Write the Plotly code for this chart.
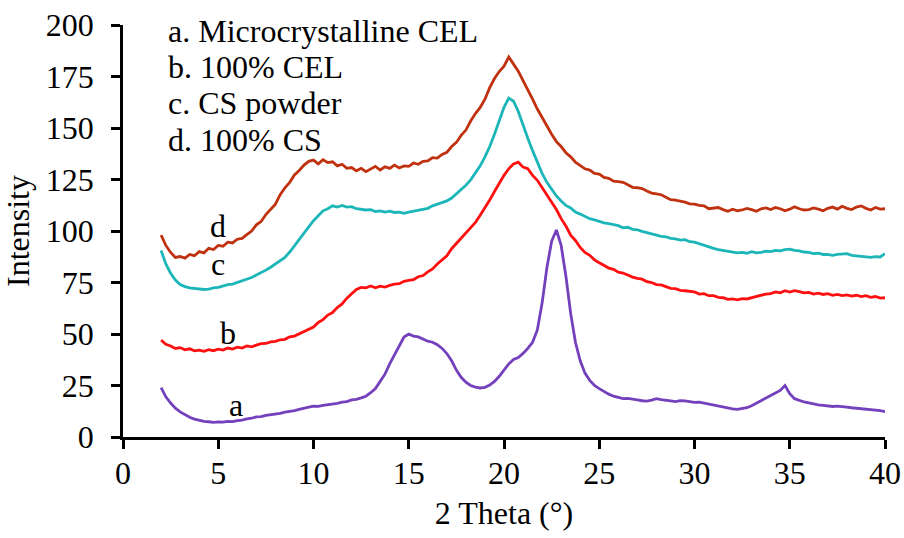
import plotly.graph_objects as go

# 2-theta sampling grid (degrees), 0.25 step from 2 to 40
two_theta = [2 + 0.25 * i for i in range(153)]

# a. Microcrystalline CEL
series_a = [
    24.0, 19.5, 16.5, 14.0,
    12.2, 10.8, 9.6, 8.7,
    8.1, 7.6, 7.4, 7.1,
    7.3, 7.2, 7.6, 7.5,
    8.0, 8.2, 8.8, 9.1,
    9.8, 9.9, 10.5, 10.8,
    11.3, 11.5, 12.1, 12.3,
    12.8, 13.4, 13.8, 14.5,
    15.0, 14.9, 15.4, 15.6,
    15.8, 16.3, 16.9, 17.2,
    18.0, 18.3, 19.0, 19.8,
    21.5, 23.5, 27.0, 30.5,
    35.5, 40.0, 44.5, 48.5,
    50.0, 49.0, 48.6, 47.6,
    46.5, 46.0, 44.8, 43.0,
    40.5, 37.0, 32.5, 29.0,
    26.6, 25.0, 24.2, 23.8,
    24.1, 25.2, 27.0, 29.5,
    32.5, 35.5, 37.6, 38.6,
    40.6, 43.0, 46.0, 52.0,
    65.0, 82.0, 95.0, 100.5,
    93.0, 78.0, 60.0, 46.0,
    37.0, 31.0, 27.5, 25.0,
    23.5, 22.0, 20.8, 19.8,
    19.2, 18.6, 18.7, 18.2,
    18.0, 17.6, 17.4, 17.9,
    18.6, 18.2, 18.0, 17.5,
    17.2, 17.6, 17.5, 17.1,
    16.8, 16.9, 16.4, 16.0,
    15.5, 15.2, 14.6, 14.1,
    13.6, 13.4, 13.7, 14.2,
    15.2, 16.4, 18.0, 19.0,
    20.2, 21.3, 22.6, 25.0,
    21.0, 18.6, 17.6, 17.0,
    16.6, 16.0, 15.6, 15.3,
    15.1, 14.8, 15.0, 14.6,
    14.5, 14.2, 14.0, 13.8,
    13.6, 13.3, 13.0, 12.8,
    12.3,
]

# b. 100% CEL
series_b = [
    47.0, 45.0, 44.2, 43.0,
    43.4, 42.3, 42.8, 41.8,
    42.2, 41.6, 42.4, 41.9,
    42.6, 42.2, 43.2, 42.7,
    43.6, 43.2, 44.2, 43.8,
    44.6, 45.3, 45.4, 46.2,
    46.4, 47.2, 47.4, 48.6,
    49.0, 50.2, 51.0, 52.6,
    53.4, 55.6, 57.0, 59.2,
    60.4, 62.8, 64.6, 67.4,
    69.4, 71.6, 72.6, 72.4,
    73.3, 72.4, 73.2, 72.8,
    73.6, 74.2, 74.4, 75.6,
    76.0, 76.4, 77.8, 78.4,
    80.2, 81.6, 84.0, 85.8,
    88.0, 91.4, 94.0, 96.8,
    99.0, 101.8, 104.2, 107.6,
    111.0, 115.0, 119.2, 123.4,
    127.0, 130.2, 132.6, 133.4,
    131.0, 130.2, 127.0, 124.6,
    121.0, 117.2, 114.0, 110.4,
    106.0, 102.4, 98.0, 95.4,
    92.0, 89.6, 88.2, 86.0,
    84.6, 83.2, 82.0, 81.4,
    80.0, 79.6, 78.4, 77.6,
    77.0, 76.6, 75.4, 75.0,
    74.0, 73.8, 73.0, 72.2,
    72.0, 71.2, 71.0, 70.8,
    70.4, 69.4, 69.6, 68.6,
    68.6, 67.8, 67.6, 66.8,
    67.0, 66.6, 67.2, 67.0,
    67.6, 68.2, 68.6, 69.4,
    69.6, 70.4, 70.0, 71.0,
    70.4, 71.0, 70.6, 70.0,
    70.2, 69.4, 69.8, 69.2,
    69.6, 68.8, 69.2, 68.6,
    69.0, 68.4, 68.8, 68.2,
    68.6, 67.8, 68.2, 67.4,
    67.6,
]

# c. CS powder
series_c = [
    90.5, 84.0, 79.5, 76.2,
    74.0, 73.0, 72.4, 72.2,
    72.0, 71.6, 71.8, 72.4,
    72.6, 73.4, 74.0, 74.2,
    75.0, 75.8, 76.6, 77.4,
    78.6, 79.6, 81.0, 82.4,
    84.0, 85.2, 87.2, 89.8,
    93.0, 96.0, 99.2, 102.0,
    105.0, 107.6, 109.8, 110.8,
    112.2, 111.6, 112.4, 111.6,
    111.8, 110.8, 110.6, 110.2,
    110.4, 109.4, 109.8, 109.2,
    109.6, 109.0, 109.2, 108.6,
    109.2, 109.6, 110.2, 110.4,
    111.0, 112.2, 113.0, 113.6,
    114.6, 116.0, 118.0, 120.0,
    122.2, 124.8, 128.0, 131.6,
    136.0, 141.0, 147.0, 153.6,
    160.0, 164.5, 163.0, 158.0,
    151.0, 145.0, 139.0, 133.4,
    128.0, 123.6, 120.2, 117.0,
    114.6, 112.4, 111.2, 109.2,
    108.2, 107.2, 106.0, 105.4,
    104.6, 104.0, 103.6, 103.2,
    102.6, 101.6, 101.8, 100.8,
    100.6, 99.8, 99.2, 98.6,
    98.2, 97.4, 97.2, 96.4,
    96.2, 95.6, 95.8, 94.8,
    94.6, 93.8, 93.0, 92.2,
    91.6, 91.0, 90.6, 90.2,
    90.0, 89.4, 89.6, 89.2,
    90.0, 89.4, 89.6, 90.2,
    90.0, 90.6, 90.4, 91.0,
    91.2, 90.6, 90.4, 89.8,
    89.6, 89.0, 89.2, 88.6,
    88.6, 88.2, 88.6, 88.8,
    89.0, 88.2, 88.0, 87.6,
    87.6, 87.2, 87.6, 87.4,
    89.0,
]

# d. 100% CS
series_d = [
    98.0, 93.0, 89.6, 87.2,
    87.6, 86.8, 88.6, 88.0,
    90.0, 89.4, 91.6, 91.0,
    93.0, 92.6, 94.6, 94.2,
    96.0, 96.4, 98.2, 100.0,
    103.0, 104.6, 108.0, 110.4,
    113.0, 117.6, 121.0, 123.6,
    127.2, 129.4, 132.0, 133.8,
    134.4, 132.6, 134.6, 133.2,
    133.6, 131.6, 132.4, 130.4,
    130.8, 129.2, 130.4, 128.8,
    130.2, 131.4, 129.6, 131.2,
    130.4, 132.0, 130.6, 131.6,
    131.4, 133.0, 132.4, 133.8,
    134.0, 135.6, 135.4, 137.2,
    138.2, 141.0, 143.0, 146.4,
    149.0, 153.4, 157.0, 160.0,
    164.0, 169.6, 174.0, 177.4,
    180.0, 184.5, 181.0, 177.6,
    173.0, 168.8, 164.0, 159.2,
    155.0, 150.6, 147.0, 143.4,
    141.0, 138.0, 136.0, 133.4,
    132.0, 130.2, 129.6, 128.0,
    127.6, 126.0, 125.6, 124.2,
    124.0, 123.6, 122.4, 121.2,
    121.0, 120.6, 119.4, 118.4,
    118.0, 117.6, 116.4, 115.2,
    115.0, 114.6, 114.0, 113.2,
    113.0, 112.4, 112.2, 110.8,
    111.0, 111.4, 110.4, 109.6,
    110.6, 109.8, 110.2, 111.0,
    110.4, 109.6, 110.8, 111.2,
    110.4, 111.4, 110.8, 109.8,
    110.6, 111.8, 110.8, 110.2,
    110.4, 111.2, 110.6, 109.8,
    111.0, 111.6, 110.6, 112.0,
    111.0, 110.4, 111.6, 112.2,
    111.0, 110.2, 111.4, 110.6,
    110.8,
]

legend_lines = ["a. Microcrystalline CEL", "b. 100% CEL", "c. CS powder", "d. 100% CS"]
curve_letters = ["a", "b", "c", "d"]
x_ticks = [0, 5, 10, 15, 20, 25, 30, 35, 40]
y_ticks = [0, 25, 50, 75, 100, 125, 150, 175, 200]

for s in (series_a, series_b, series_c, series_d):
    assert len(s) == len(two_theta)

FONT = "Liberation Serif"
FS = 32
colors = {"a": "#7440BC", "b": "#FF1010", "c": "#1CB6B8", "d": "#C0320F"}

fig = go.Figure()
for key, ys in (("a", series_a), ("b", series_b), ("c", series_c), ("d", series_d)):
    fig.add_trace(go.Scatter(x=two_theta, y=ys, mode="lines",
                             line=dict(color=colors[key], width=2.8),
                             showlegend=False, hoverinfo="skip"))

# curve labels next to the curves
label_pos = {"a": (5.95, 15.5), "b": (5.5, 50.5), "c": (5.0, 84.0), "d": (5.0, 102.5)}
for k in curve_letters:
    x, y = label_pos[k]
    fig.add_annotation(x=x, y=y, xref="x", yref="y", text=k, showarrow=False,
                       font=dict(family=FONT, size=FS, color="black"),
                       xanchor="center", yanchor="middle")

# legend-like text block
legend_y = [197.3, 179.8, 162.0, 144.0]
for txt, y in zip(legend_lines, legend_y):
    fig.add_annotation(x=2.25, y=y, xref="x", yref="y", text=txt, showarrow=False,
                       font=dict(family=FONT, size=FS, color="black"),
                       xanchor="left", yanchor="middle")

axis_common = dict(showgrid=False, zeroline=False, showline=True, linecolor="black",
                   linewidth=2.5, ticks="outside", ticklen=9, tickwidth=2.5,
                   tickcolor="black", automargin=False,
                   tickfont=dict(family=FONT, size=FS, color="black"))

fig.update_xaxes(range=[0, 40], tickvals=x_ticks, ticktext=[str(v) for v in x_ticks],
                 title=dict(text="2 Theta (°)", font=dict(family=FONT, size=FS, color="black"),
                            standoff=12),
                 ticklabelstandoff=-3, **axis_common)
fig.update_yaxes(range=[0, 200], tickvals=y_ticks, ticktext=[str(v) for v in y_ticks],
                 title=dict(text="Intensity", font=dict(family=FONT, size=FS, color="black"),
                            standoff=8),
                 ticklabelstandoff=11, **axis_common)

fig.update_layout(width=904, height=538, margin=dict(l=123, r=19, t=25, b=101),
                  paper_bgcolor="white", plot_bgcolor="white",
                  font=dict(family=FONT, size=FS, color="black"))

fig.write_html("out.html")
